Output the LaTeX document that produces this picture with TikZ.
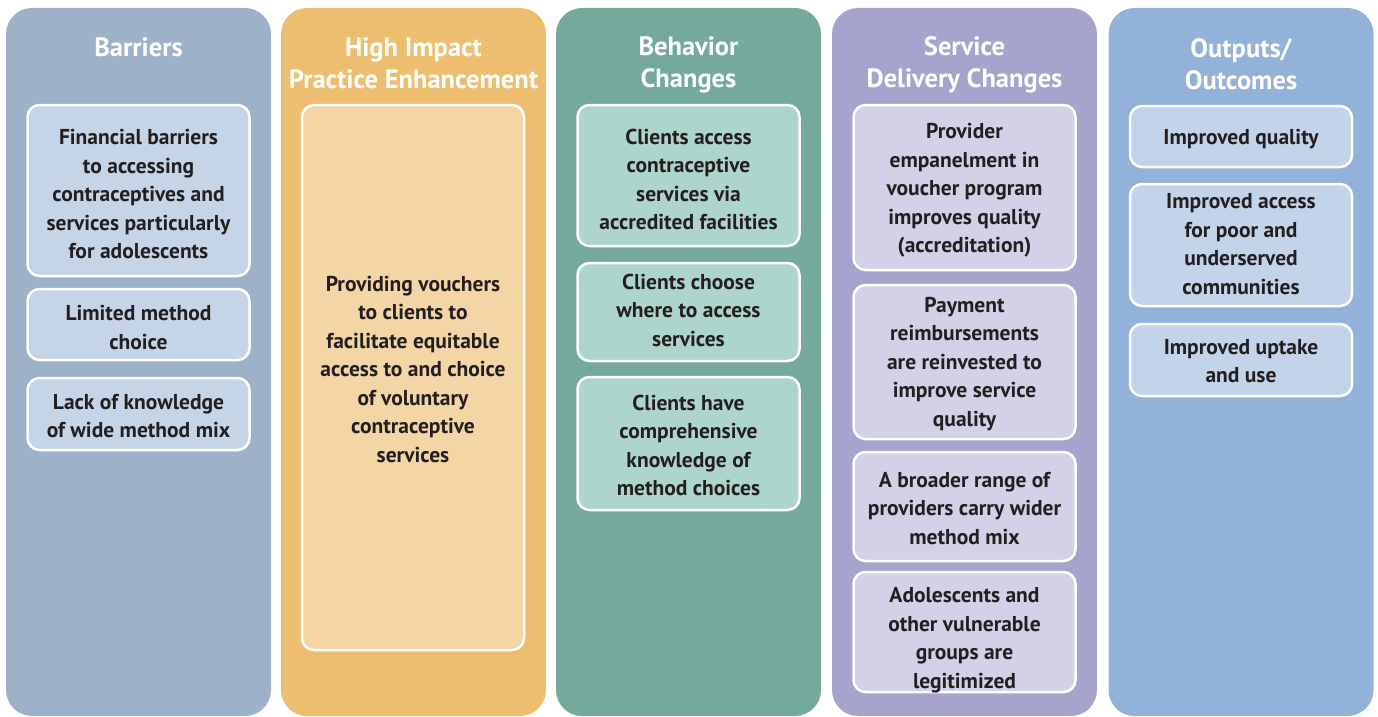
\documentclass[tikz,border=0pt]{standalone}
\usepackage{fontspec}
\setmainfont{PT Sans}
\definecolor{txt}{HTML}{231F20}
\definecolor{barback}{HTML}{9DB1C9}
\definecolor{barbox}{HTML}{C5D5E7}
\definecolor{hipback}{HTML}{EDBD70}
\definecolor{hipbox}{HTML}{F4D5A6}
\definecolor{behback}{HTML}{74A99C}
\definecolor{behbox}{HTML}{AED5CC}
\definecolor{sdcback}{HTML}{A6A4CC}
\definecolor{sdcbox}{HTML}{D3D1E7}
\definecolor{outback}{HTML}{93B2DA}
\definecolor{outbox}{HTML}{C3D3EA}

\begin{document}
\begin{tikzpicture}[x=1pt,y=-1pt,
	column/.style={rounded corners=26pt,minimum width=265pt,minimum height=708pt,inner sep=0pt},
	head/.style={text=white,align=center,font=\fontsize{26.5}{32}\selectfont\bfseries},
	item/.style={draw=white,line width=2.5pt,rounded corners=12pt,minimum width=222pt,inner sep=0pt},
	note/.style={align=center,text=txt,inner sep=0pt,font=\fontsize{21.5}{28.5}\selectfont\bfseries}]

	\useasboundingbox (0,0) rectangle (1378,717);

	% columns

	\node[column,fill=barback] (bar) at (138.5,362) {};
	\node[column,fill=hipback] (hip) at (413.5,362) {};
	\node[column,fill=behback] (beh) at (688.5,362) {};
	\node[column,fill=sdcback] (sdc) at (964.5,362) {};
	\node[column,fill=outback] (out) at (1241,362) {};

	% headings

	\node[head] (barT) at (138.5,47) {Barriers};
	\node[head] (hipT) at (413.5,63) {High Impact\\Practice Enhancement};
	\node[head] (behT) at (688.5,65) {Behavior\\Changes};
	\node[head] (sdcT) at (964.5,65) {Service\\Delivery Changes};
	\node[head] (outT) at (1241,64) {Outputs/\\Outcomes};

	% barriers

	\node[item,fill=barbox,minimum height=171pt] (bar1) at (138.5,190.5) {};
	\node[note] (bar1t) at ([yshift=-4pt]bar1.center)
		{Financial barriers\\to accessing\\contraceptives and\\services particularly\\for adolescents};
	\node[item,fill=barbox,minimum height=71pt] (bar2) at (138.5,324.5) {};
	\node[note] (bar2t) at ([yshift=-3pt]bar2.center) {Limited method\\choice};
	\node[item,fill=barbox,minimum height=72pt] (bar3) at (138.5,414) {};
	\node[note] (bar3t) at ([yshift=-2pt]bar3.center) {Lack of knowledge\\of wide method mix};

	% enhancement

	\node[item,fill=hipbox,minimum height=545pt] (hip1) at (413,377.5) {};
	\node[note] (hip1t) at ([yshift=8pt]hip1.center)
		{Providing vouchers\\to clients to\\facilitate equitable\\access to and choice\\of voluntary\\contraceptive\\services};

	% behavior changes

	\node[item,fill=behbox,minimum height=141pt] (beh1) at (688.5,175.5) {};
	\node[note] (beh1t) at ([yshift=-4pt]beh1.center)
		{Clients access\\contraceptive\\services via\\accredited facilities};
	\node[item,fill=behbox,minimum height=98pt] (beh2) at (688.5,312) {};
	\node[note] (beh2t) at ([yshift=2pt]beh2.center) {Clients choose\\where to access\\services};
	\node[item,fill=behbox,minimum height=133pt] (beh3) at (688.5,443.5) {};
	\node[note] (beh3t) at ([yshift=-2pt]beh3.center)
		{Clients have\\comprehensive\\knowledge of\\method choices};

	% service delivery changes

	\node[item,fill=sdcbox,minimum height=165pt] (sdc1) at (964.5,187.5) {};
	\node[note] (sdc1t) at ([yshift=-3pt]sdc1.center)
		{Provider\\empanelment in\\voucher program\\improves quality\\(accreditation)};
	\node[item,fill=sdcbox,minimum height=154pt] (sdc2) at (964.5,362) {};
	\node[note] (sdc2t) at ([yshift=-2pt]sdc2.center)
		{Payment\\reimbursements\\are reinvested to\\improve service\\quality};
	\node[item,fill=sdcbox,minimum height=109pt] (sdc3) at (964.5,506.5) {};
	\node[note] (sdc3t) at ([yshift=-2pt]sdc3.center)
		{A broader range of\\providers carry wider\\method mix};
	\node[item,fill=sdcbox,minimum height=120pt] (sdc4) at (964.5,632) {};
	\node[note] (sdc4t) at ([yshift=-8pt]sdc4.center)
		{Adolescents and\\other vulnerable\\groups are\\legitimized};

	% outputs

	\node[item,fill=outbox,minimum height=61pt] (out1) at (1241,136.5) {};
	\node[note] (out1t) at ([yshift=-3pt]out1.center) {Improved quality};
	\node[item,fill=outbox,minimum height=122pt] (out2) at (1241,245) {};
	\node[note] (out2t) at ([yshift=1pt]out2.center)
		{Improved access\\for poor and\\underserved\\communities};
	\node[item,fill=outbox,minimum height=72pt] (out3) at (1241,360) {};
	\node[note] (out3t) at ([yshift=-1pt]out3.center) {Improved uptake\\and use};

\end{tikzpicture}
\end{document}
